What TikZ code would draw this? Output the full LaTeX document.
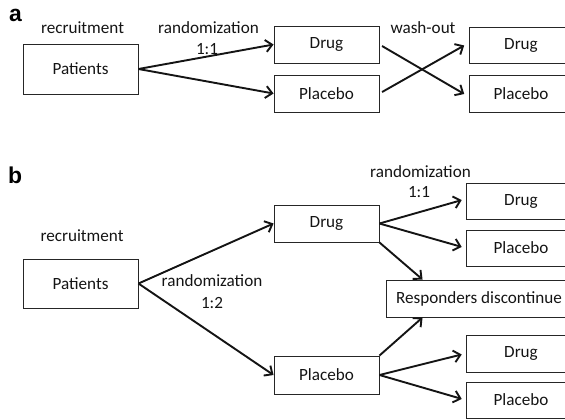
\documentclass[tikz,border=0pt]{standalone}
\usepackage{fontspec}
\setmainfont{Carlito}
\newfontfamily\panelfont{Liberation Sans}
\usetikzlibrary{arrows.meta}

\begin{document}
\begin{tikzpicture}[x=1bp,y=-1bp,
  txt/.style={font=\fontsize{17.2}{20}\selectfont, text=black!92},
  box/.style={txt, draw=black!85, line width=0.9bp, inner sep=0pt},
  lbl/.style={txt, anchor=base, inner sep=0pt},
  panel/.style={anchor=base west, inner sep=0pt, font=\panelfont\bfseries\fontsize{23}{26}\selectfont},
  arr/.style={line width=1.9bp, draw=black!92,
    -{Straight Barb[length=6.5bp,width=12bp,line width=1.9bp]}}]
\useasboundingbox (0,0) rectangle (565,419);
\clip (0,0) rectangle (565,419);

% ---------------- panel a: crossover ----------------
\node[panel] (pa) at (9,21) {a};
\node[lbl] (recA) at (82.5,33) {recruitment};
\node[lbl] (randA) at (208.5,33) {randomization};
\node[lbl] (ratioA) at (207,54) {1:1};
\node[lbl] (wash) at (423,33) {wash-out};

\node[box, minimum width=115bp, minimum height=50bp] (aPat) at (80.5,69) {Patients};
\node[box, minimum width=105bp, minimum height=37bp] (aDrug) at (326.5,44.5) {Drug};
\node[box, minimum width=105bp, minimum height=37bp] (aPla) at (326.5,93.5) {Placebo};
\node[box, minimum width=104bp, minimum height=36bp] (aDrug2) at (521,45) {Drug};
\node[box, minimum width=104bp, minimum height=37bp] (aPla2) at (521,93.5) {Placebo};

\draw[arr] (aPat.east) -- (aDrug.west);
\draw[arr] (aPat.east) -- (aPla.west);
\draw[arr, shorten <=3bp, shorten >=5bp] (aDrug.east) -- ([yshift=-3bp]aPla2.west);
\draw[arr, shorten <=3bp, shorten >=5bp] (aPla.east) -- ([yshift=2bp]aDrug2.west);

% ---------------- panel b: randomized withdrawal ----------------
\node[panel] (pb) at (8,183) {b};
\node[lbl] (recB) at (82,241) {recruitment};
\node[lbl] (randB) at (212,286) {randomization};
\node[lbl] (ratioB) at (212,308) {1:2};
\node[lbl] (randC) at (420.5,177) {randomization};
\node[lbl] (ratioC) at (419,197) {1:1};

\node[box, minimum width=115bp, minimum height=49bp] (bPat) at (80.5,283.5) {Patients};
\node[box, minimum width=105bp, minimum height=37bp] (bDrug) at (326.5,223.5) {Drug};
\node[box, minimum width=105bp, minimum height=38bp] (bPla) at (326.5,375) {Placebo};
\node[box, minimum width=110bp, minimum height=36bp] (bD1) at (521,201) {Drug};
\node[box, minimum width=110bp, minimum height=36bp] (bP1) at (521,248) {Placebo};
\node[box, minimum width=186bp, minimum height=37bp] (bResp) at (479,298.5) {Responders discontinue};
\node[box, minimum width=110bp, minimum height=37bp] (bD2) at (521,353.5) {Drug};
\node[box, minimum width=110bp, minimum height=36bp] (bP2) at (521,400) {Placebo};

\draw[arr] (bPat.east) -- (bDrug.west);
\draw[arr] (bPat.east) -- (bPla.west);
\draw[arr, shorten >=4bp] (bDrug.east) -- ([yshift=2bp]bD1.west);
\draw[arr, shorten >=4bp] (bDrug.east) -- (bP1.west);
\draw[arr] (bDrug.south east) -- ([xshift=37bp]bResp.north west);
\draw[arr] (bPla.north east) -- ([xshift=37bp]bResp.south west);
\draw[arr, shorten >=4bp] (bPla.east) -- (bD2.west);
\draw[arr, shorten >=4bp] (bPla.east) -- (bP2.west);
\end{tikzpicture}
\end{document}
